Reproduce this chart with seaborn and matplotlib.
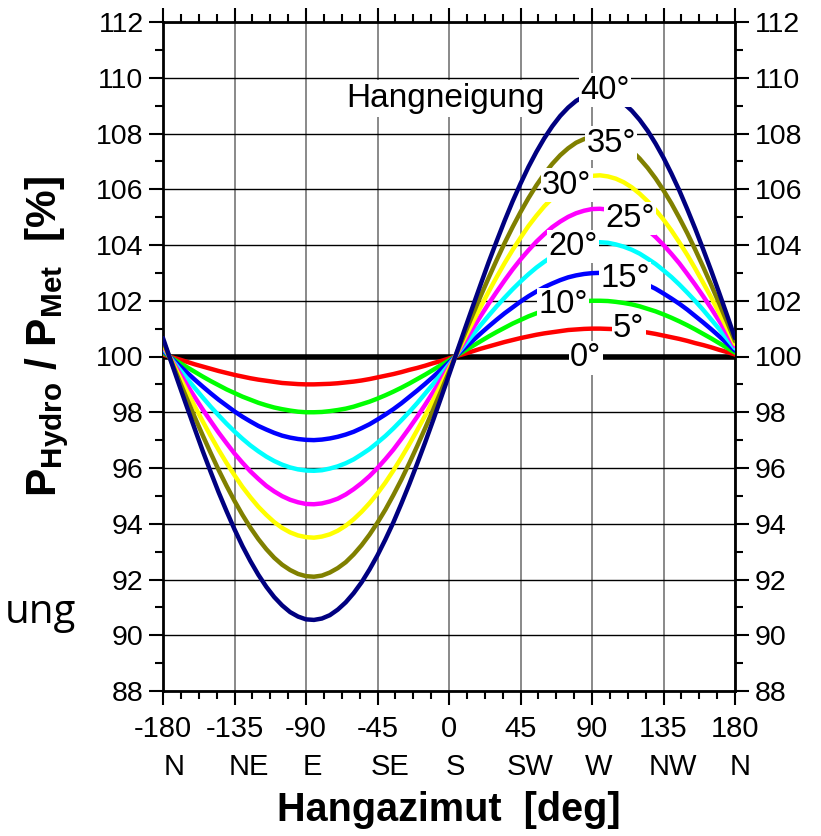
import matplotlib
matplotlib.use("Agg")
import matplotlib.pyplot as plt
from matplotlib.ticker import MultipleLocator
import seaborn as sns
import pandas as pd

# ---- data, azimuth every 5 degrees ----
azimuth = list(range(-180, 181, 5))

tilt_0 = [100.0] * 73
tilt_5 = [100.07, 99.98, 99.90, 99.81, 99.72, 99.64, 99.56, 99.48, 99.41, 99.34,
          99.28, 99.22, 99.17, 99.13, 99.09, 99.05, 99.03, 99.01, 99.00, 99.00,
          99.01, 99.02, 99.04, 99.07, 99.10, 99.14, 99.19, 99.25, 99.31, 99.37,
          99.44, 99.52, 99.59, 99.67, 99.76, 99.84, 99.93, 100.02, 100.10, 100.19,
          100.28, 100.36, 100.44, 100.52, 100.59, 100.66, 100.72, 100.78, 100.83, 100.87,
          100.91, 100.95, 100.97, 100.99, 101.00, 101.00, 100.99, 100.98, 100.96, 100.93,
          100.90, 100.86, 100.81, 100.75, 100.69, 100.63, 100.56, 100.48, 100.41, 100.33,
          100.24, 100.16, 100.07]
tilt_10 = [100.14, 99.96, 99.79, 99.62, 99.45, 99.28, 99.12, 98.97, 98.82, 98.69,
           98.56, 98.45, 98.34, 98.25, 98.17, 98.11, 98.06, 98.02, 98.00, 98.00,
           98.01, 98.04, 98.08, 98.13, 98.20, 98.29, 98.38, 98.49, 98.61, 98.74,
           98.88, 99.03, 99.19, 99.35, 99.52, 99.69, 99.86, 100.04, 100.21, 100.38,
           100.55, 100.72, 100.88, 101.03, 101.18, 101.31, 101.44, 101.55, 101.66, 101.75,
           101.83, 101.89, 101.94, 101.98, 102.00, 102.00, 101.99, 101.96, 101.92, 101.87,
           101.80, 101.71, 101.62, 101.51, 101.39, 101.26, 101.12, 100.97, 100.81, 100.65,
           100.48, 100.31, 100.14]
tilt_15 = [100.21, 99.95, 99.69, 99.43, 99.17, 98.92, 98.68, 98.45, 98.24, 98.03,
           97.84, 97.67, 97.51, 97.38, 97.26, 97.16, 97.09, 97.04, 97.01, 97.00,
           97.02, 97.06, 97.12, 97.20, 97.30, 97.43, 97.57, 97.74, 97.92, 98.11,
           98.32, 98.55, 98.78, 99.02, 99.27, 99.53, 99.79, 100.05, 100.31, 100.57,
           100.83, 101.08, 101.32, 101.55, 101.76, 101.97, 102.16, 102.33, 102.49, 102.62,
           102.74, 102.84, 102.91, 102.96, 102.99, 103.00, 102.98, 102.94, 102.88, 102.80,
           102.70, 102.57, 102.43, 102.26, 102.08, 101.89, 101.68, 101.45, 101.22, 100.98,
           100.73, 100.47, 100.21]
tilt_20 = [100.29, 99.93, 99.57, 99.22, 98.87, 98.53, 98.20, 97.89, 97.59, 97.31,
           97.05, 96.81, 96.60, 96.41, 96.25, 96.12, 96.02, 95.95, 95.91, 95.90,
           95.92, 95.98, 96.06, 96.17, 96.31, 96.49, 96.68, 96.91, 97.15, 97.42,
           97.71, 98.01, 98.33, 98.67, 99.01, 99.36, 99.71, 100.07, 100.43, 100.78,
           101.13, 101.47, 101.80, 102.11, 102.41, 102.69, 102.95, 103.19, 103.40, 103.59,
           103.75, 103.88, 103.98, 104.05, 104.09, 104.10, 104.08, 104.02, 103.94, 103.83,
           103.69, 103.51, 103.32, 103.09, 102.85, 102.58, 102.29, 101.99, 101.67, 101.33,
           100.99, 100.64, 100.29]
tilt_25 = [100.37, 99.91, 99.45, 98.99, 98.54, 98.10, 97.68, 97.27, 96.89, 96.52,
           96.19, 95.88, 95.61, 95.36, 95.16, 94.99, 94.86, 94.77, 94.71, 94.70,
           94.73, 94.80, 94.90, 95.05, 95.24, 95.46, 95.71, 96.00, 96.32, 96.66,
           97.04, 97.43, 97.84, 98.27, 98.72, 99.17, 99.63, 100.09, 100.55, 101.01,
           101.46, 101.90, 102.32, 102.73, 103.12, 103.48, 103.81, 104.12, 104.39, 104.64,
           104.84, 105.01, 105.14, 105.23, 105.29, 105.30, 105.27, 105.20, 105.10, 104.95,
           104.76, 104.54, 104.29, 104.00, 103.68, 103.34, 102.96, 102.57, 102.16, 101.73,
           101.28, 100.83, 100.37]
tilt_30 = [100.45, 99.89, 99.32, 98.76, 98.21, 97.67, 97.15, 96.65, 96.18, 95.74,
           95.32, 94.95, 94.61, 94.32, 94.06, 93.85, 93.69, 93.58, 93.52, 93.50,
           93.54, 93.62, 93.75, 93.93, 94.16, 94.43, 94.74, 95.09, 95.48, 95.91,
           96.37, 96.85, 97.36, 97.88, 98.43, 98.98, 99.55, 100.11, 100.68, 101.24,
           101.79, 102.33, 102.85, 103.35, 103.82, 104.26, 104.68, 105.05, 105.39, 105.68,
           105.94, 106.15, 106.31, 106.42, 106.48, 106.50, 106.46, 106.38, 106.25, 106.07,
           105.84, 105.57, 105.26, 104.91, 104.52, 104.09, 103.64, 103.15, 102.64, 102.12,
           101.57, 101.02, 100.45]
tilt_35 = [100.55, 99.86, 99.17, 98.49, 97.82, 97.17, 96.54, 95.93, 95.36, 94.82,
           94.32, 93.86, 93.45, 93.09, 92.78, 92.53, 92.34, 92.20, 92.12, 92.10,
           92.14, 92.25, 92.41, 92.62, 92.90, 93.23, 93.61, 94.04, 94.51, 95.03,
           95.58, 96.17, 96.79, 97.43, 98.09, 98.76, 99.45, 100.14, 100.83, 101.51,
           102.18, 102.83, 103.46, 104.07, 104.64, 105.18, 105.68, 106.14, 106.55, 106.91,
           107.22, 107.47, 107.67, 107.80, 107.88, 107.90, 107.86, 107.75, 107.59, 107.38,
           107.10, 106.77, 106.39, 105.96, 105.49, 104.97, 104.42, 103.83, 103.21, 102.57,
           101.91, 101.24, 100.55]
tilt_40 = [100.66, 99.83, 99.01, 98.20, 97.40, 96.61, 95.86, 95.13, 94.45, 93.80,
           93.20, 92.66, 92.17, 91.74, 91.37, 91.07, 90.83, 90.67, 90.57, 90.55,
           90.60, 90.72, 90.92, 91.18, 91.51, 91.90, 92.36, 92.87, 93.44, 94.05,
           94.72, 95.42, 96.16, 96.92, 97.71, 98.52, 99.34, 100.17, 100.99, 101.80,
           102.60, 103.39, 104.14, 104.87, 105.56, 106.20, 106.80, 107.34, 107.83, 108.26,
           108.63, 108.93, 109.17, 109.33, 109.43, 109.45, 109.40, 109.28, 109.08, 108.82,
           108.49, 108.10, 107.64, 107.13, 106.56, 105.95, 105.28, 104.58, 103.84, 103.08,
           102.29, 101.48, 100.66]

tilt_names = ["0°", "5°", "10°", "15°", "20°", "25°", "30°", "35°", "40°"]
series = [tilt_0, tilt_5, tilt_10, tilt_15, tilt_20, tilt_25, tilt_30, tilt_35, tilt_40]
colors = ["#000000", "#FF0000", "#00FF00", "#0000FF", "#00FFFF", "#FF00FF", "#FFFF00", "#808000", "#000080"]

x_ticks = [-180, -135, -90, -45, 0, 45, 90, 135, 180]
x_ticklabels = ["-180", "-135", "-90", "-45", "0", "45", "90", "135", "180"]
compass_labels = ["N", "NE", "E", "SE", "S", "SW", "W", "NW", "N"]
compass_pos = [-173, -126, -86, -37, 4, 51, 94, 141, 183]
y_ticks = [88, 90, 92, 94, 96, 98, 100, 102, 104, 106, 108, 110, 112]

# inline label positions (azimuth, value)
label_az = [86, 113, 72, 111, 78, 114, 74, 102, 98]
label_val = [99.95, 101.0, 101.85, 102.8, 103.95, 104.95, 106.15, 107.65, 109.55]

# ---- build table ----
rows = []
for name, vals in zip(tilt_names, series):
    for a, v in zip(azimuth, vals):
        rows.append({"Hangazimut": a, "Wert": v, "Hangneigung": name})
df = pd.DataFrame(rows)

sns.set_style("white")
plt.rcParams["font.family"] = ["Liberation Sans", "DejaVu Sans"]
plt.rcParams["text.color"] = "black"
plt.rcParams["axes.labelcolor"] = "black"
plt.rcParams["xtick.color"] = "black"
plt.rcParams["ytick.color"] = "black"
plt.rcParams["mathtext.fontset"] = "custom"
plt.rcParams["mathtext.rm"] = "Liberation Sans"
plt.rcParams["mathtext.bf"] = "Liberation Sans:bold"
plt.rcParams["mathtext.it"] = "Liberation Sans:italic"
plt.rcParams["lines.solid_joinstyle"] = "round"

fig = plt.figure(figsize=(8.21, 8.36), dpi=100)
ax = fig.add_axes([163 / 821, 1 - 691 / 836, (735 - 163) / 821, (691 - 22) / 836])

ax.set_xlim(-180, 180)
ax.set_ylim(88, 112)

# grid
ax.set_axisbelow(True)
ax.xaxis.grid(True, which="major", color="#808080", linewidth=1.3)
ax.yaxis.grid(True, which="major", color="#000000", linewidth=1.0)

palette = dict(zip(tilt_names, colors))
for name in tilt_names:
    sub = df[df["Hangneigung"] == name]
    lw = 4.0 if name == "0°" else 3.2
    sns.lineplot(data=sub, x="Hangazimut", y="Wert", color=palette[name], linewidth=lw,
                 ax=ax, legend=False, sort=False, zorder=3)

ax.set_xlabel("")
ax.set_ylabel("")

# inline labels
for name, a, v in zip(tilt_names, label_az, label_val):
    ax.text(a, v, name, fontsize=23.5, color="black", ha="center", va="center", zorder=5,
            bbox=dict(boxstyle="square,pad=0.04", fc="white", ec="none"))

ax.text(-2.5, 109.25, "Hangneigung", fontsize=24, color="black", ha="center", va="center", zorder=5,
        bbox=dict(boxstyle="square,pad=0.08", fc="white", ec="none"))

# ticks
ax.set_xticks(x_ticks)
ax.set_xticklabels(x_ticklabels)
ax.set_yticks(y_ticks)
ax.set_yticklabels([str(t) for t in y_ticks])
ax.xaxis.set_minor_locator(MultipleLocator(11.25))
ax.yaxis.set_minor_locator(MultipleLocator(1))
ax.tick_params(axis="both", which="both", direction="out", top=True, bottom=True,
               left=True, right=True, labelleft=True, labelright=True, labeltop=False,
               colors="black")
ax.tick_params(axis="x", which="major", labelsize=21, pad=7)
ax.tick_params(axis="y", which="major", labelsize=20.5, pad=4)
ax.tick_params(axis="both", which="major", length=10, width=1.5)
ax.tick_params(axis="both", which="minor", length=6, width=1.5)
for sp in ax.spines.values():
    sp.set_linewidth(2.0)
    sp.set_color("black")

# compass labels
for lab, p in zip(compass_labels, compass_pos):
    ax.annotate(lab, xy=(p, 0), xycoords=("data", "axes fraction"), xytext=(0, -55),
                textcoords="offset points", ha="center", va="center", fontsize=21, color="black")

# axis titles
fig.text(449 / 821, 1 - 810 / 836, "Hangazimut  [deg]", fontsize=28.5, fontweight="bold",
         ha="center", va="center", color="black")
fig.text(47 / 821, 1 - 337 / 836, r"$\mathbf{P_{Hydro}\ /\ P_{Met}\ \ [\%]}$", fontsize=30.5,
         rotation=90, ha="center", va="center", color="black")

fig.text(5 / 821, 1 - 613 / 836, "ung", fontsize=29, family=["Open Sans", "DejaVu Sans"],
         ha="left", va="center", color="black")

fig.savefig("out.png", dpi=100)
